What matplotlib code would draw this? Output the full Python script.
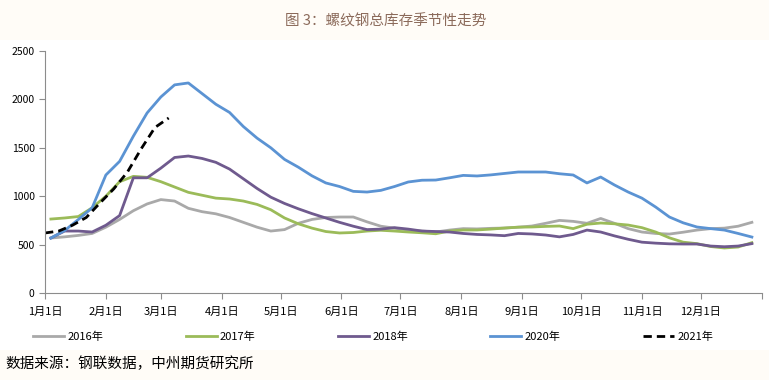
import matplotlib
matplotlib.use('Agg')
import matplotlib.pyplot as plt
from matplotlib.patches import Rectangle
import pandas as pd

plt.rcParams['font.family'] = ['Noto Sans CJK SC', 'DejaVu Sans']

# weekly inventory (10k t), plotted on a common calendar year
start_date = '2021-01-04'
start_2021 = '2021-01-01'

v2016 = [568, 580, 595, 615, 680, 760, 850, 920, 965, 950, 875, 840, 818, 780,
         730, 680, 640, 655, 720, 760, 780, 785, 785, 735, 690, 670, 650, 640,
         630, 650, 665, 662, 668, 671, 680, 692, 720, 750, 740, 720, 770, 720,
         665, 630, 615, 609, 628, 650, 665, 670, 690, 730]
v2017 = [764, 775, 790, 880, 1000, 1150, 1205, 1195, 1150, 1095, 1040, 1010,
         980, 971, 950, 915, 860, 775, 715, 670, 635, 620, 625, 640, 648, 640,
         630, 622, 612, 640, 651, 651, 660, 671, 680, 682, 688, 692, 665, 710,
         723, 715, 702, 675, 630, 570, 525, 510, 480, 465, 475, 520]
v2018 = [568, 640, 640, 630, 700, 800, 1190, 1190, 1290, 1400, 1415, 1390,
         1350, 1280, 1180, 1080, 990, 925, 870, 820, 775, 730, 690, 655, 660,
         675, 660, 640, 635, 630, 615, 605, 600, 592, 615, 610, 599, 580, 605,
         650, 630, 590, 555, 525, 515, 508, 506, 506, 485, 478, 485, 510]
v2020 = [568, 645, 760, 880, 1219, 1360, 1620, 1860, 2025, 2150, 2170, 2060,
         1950, 1865, 1720, 1600, 1500, 1380, 1300, 1210, 1137, 1100, 1050, 1043,
         1060, 1100, 1147, 1165, 1167, 1190, 1215, 1209, 1220, 1235, 1250, 1250,
         1250, 1232, 1219, 1137, 1198, 1116, 1043, 980, 888, 785, 725, 682, 665,
         650, 615, 578]
v2021 = [620, 640, 700, 780, 930, 1075, 1250, 1490, 1710, 1808]

labels = ['2016年', '2017年', '2018年', '2020年', '2021年']
colors = ['#a9a9a9', '#9bbb59', '#6f5a8e', '#5b93d3', '#000000']
month_labels = [f'{m}月1日' for m in range(1, 13)]

fig = plt.figure(figsize=(7.69, 3.8), dpi=100, facecolor='#fffcf7')
# white chart band between the cream header and footer
fig.patches.append(Rectangle((0, 30 / 380), 1, 310 / 380, transform=fig.transFigure,
                             facecolor='white', edgecolor='none', zorder=-1))
ax = fig.add_axes([45 / 769, 1 - 293 / 380, 716.7 / 769, 242 / 380])
ax.set_facecolor('white')

series = [v2016, v2017, v2018, v2020]
for vals, lab, col in zip(series, labels[:4], colors[:4]):
    d = pd.date_range(start_date, periods=len(vals), freq='7D')
    ax.plot(d, vals, color=col, lw=2, label=lab, solid_joinstyle='round')
d21 = pd.date_range(start_2021, periods=len(v2021), freq='7D')
ax.plot(d21, v2021, color=colors[4], lw=2, ls=(0, (3, 1.8)), label=labels[4])

ax.set_xlim(pd.Timestamp('2021-01-01'), pd.Timestamp('2022-01-01'))
ax.set_ylim(0, 2500)
ticks = list(pd.date_range('2021-01-01', '2022-01-01', freq='MS'))
ax.set_xticks(ticks)
ax.set_xticklabels(month_labels + [''], fontsize=8)
ax.set_yticks(range(0, 2501, 500))
ax.set_yticklabels([str(v) for v in range(0, 2501, 500)], fontsize=7.5)
for s in ['top', 'right']:
    ax.spines[s].set_visible(False)
for s in ['left', 'bottom']:
    ax.spines[s].set_color('#8c8c8c')
    ax.spines[s].set_linewidth(0.8)
ax.tick_params(axis='both', colors='#8c8c8c', labelcolor='black', length=4, width=0.8)
ax.tick_params(axis='x', pad=6)

fig.legend(loc='center left', bbox_to_anchor=(33 / 769, 1 - 337 / 380), ncol=5,
           frameon=False, fontsize=8, handlelength=2.8, handletextpad=0.3,
           columnspacing=7.4, borderpad=0, borderaxespad=0)

fig.text(386 / 769, 1 - 21 / 380, '图 3：螺纹钢总库存季节性走势', ha='center', va='center',
         fontsize=10.5, color='#8b6a5a')
fig.text(5 / 769, 1 - 364 / 380, '数据来源：钢联数据，中州期货研究所', ha='left', va='center',
         fontsize=10.5, color='black')

fig.savefig('out.png', dpi=100, facecolor=fig.get_facecolor())
